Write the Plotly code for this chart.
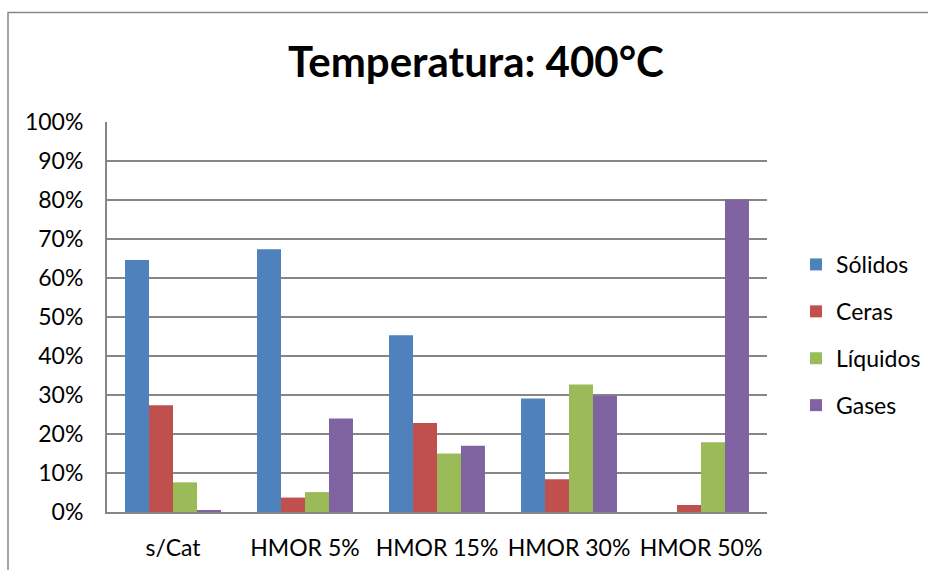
import plotly.graph_objects as go

# Product distribution at 400 °C for each catalyst loading
categories = ["s/Cat", "HMOR 5%", "HMOR 15%", "HMOR 30%", "HMOR 50%"]
solidos = [64.6, 67.4, 45.3, 29.1, 0.0]
ceras = [27.4, 3.7, 22.8, 8.4, 1.8]
liquidos = [7.6, 5.1, 15.0, 32.7, 17.9]
gases = [0.5, 24.0, 17.0, 29.8, 80.1]

series = [
    ("Sólidos", solidos, "#4F81BD"),
    ("Ceras", ceras, "#C0504D"),
    ("Líquidos", liquidos, "#9BBB59"),
    ("Gases", gases, "#8064A2"),
]

FONT = "Lato, 'Open Sans', sans-serif"
GRID = "#868686"

# plot-area geometry in pixels, used to place the outer frame
L, R, T, B = 107, 161, 122, 58
W, H = 928, 570
pw, ph = W - L - R, H - T - B

fig = go.Figure()
for name, vals, color in series:
    fig.add_trace(go.Bar(
        name=name, x=categories, y=vals,
        marker=dict(color=color, line=dict(width=0)),
        legendgroup=name,
    ))

fig.update_layout(
    width=W, height=H,
    margin=dict(l=L, r=R, t=T, b=B, autoexpand=False),
    paper_bgcolor="white", plot_bgcolor="white",
    barmode="group", bargap=0.273, bargroupgap=0,
    font=dict(family=FONT, size=23, color="black"),
    title=dict(
        text="<b>Temperatura: 400°C</b>",
        font=dict(family=FONT, size=42, color="black"),
        x=476 / W, xref="container", xanchor="center",
        y=1 - 62 / H, yref="container", yanchor="middle",
    ),
    legend=dict(
        x=(796 - L) / pw, xanchor="left",
        y=(H - B - 243) / ph, yanchor="top",
        font=dict(family=FONT, size=23),
        tracegroupgap=14,
        traceorder="grouped",
        bgcolor="rgba(0,0,0,0)",
    ),
    xaxis=dict(
        type="category", automargin=False,
        showline=True, linecolor=GRID, linewidth=2,
        showgrid=False, ticks="", ticklabelstandoff=14,
        tickfont=dict(size=23),
    ),
    yaxis=dict(
        range=[0, 100], dtick=10, ticksuffix="%", automargin=False,
        showline=True, linecolor=GRID, linewidth=2,
        showgrid=True, gridcolor=GRID, gridwidth=1.5,
        zeroline=False, ticks="", ticklabelstandoff=17,
        tickfont=dict(size=23),
    ),
    shapes=[dict(
        type="rect", xref="paper", yref="paper",
        x0=(8 - L) / pw, x1=1.4,
        y0=-0.3, y1=(H - B - 12.5) / ph,
        line=dict(color=GRID, width=1.5), fillcolor="rgba(0,0,0,0)",
        layer="below",
    )],
)

fig.write_html("out.html")
